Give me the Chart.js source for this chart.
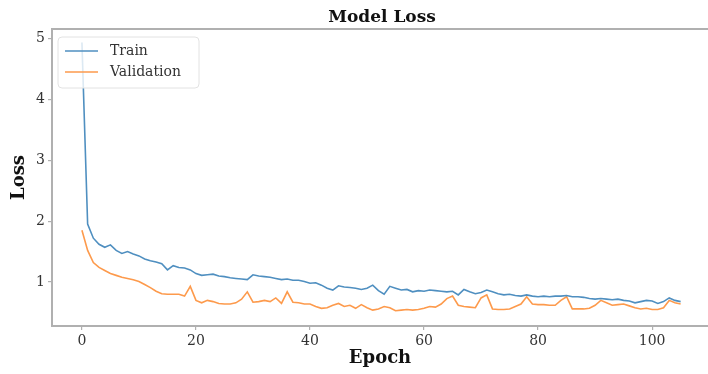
<!DOCTYPE html>
<html>
<head>
<meta charset="utf-8">
<title>Model Loss</title>
<script src="https://cdn.jsdelivr.net/npm/chart.js@4"></script>
<style>
  html, body { margin: 0; padding: 0; background: #fff; overflow: hidden; }
  canvas { display: block; }
</style>
</head>
<body>
<canvas id="c" width="708" height="374"></canvas>
<script>
// Training history, one value per epoch (0..105)
const trainLoss = [
  4.93, 1.95, 1.72, 1.62, 1.57, 1.61, 1.52, 1.47, 1.50, 1.46,
  1.43, 1.38, 1.35, 1.33, 1.30, 1.20, 1.27, 1.24, 1.23, 1.20,
  1.14, 1.11, 1.12, 1.13, 1.10, 1.09, 1.07, 1.06, 1.05, 1.04,
  1.12, 1.10, 1.09, 1.08, 1.06, 1.04, 1.05, 1.03, 1.03, 1.01,
  0.98, 0.99, 0.95, 0.90, 0.87, 0.94, 0.92, 0.91, 0.90, 0.88,
  0.90, 0.95, 0.86, 0.80, 0.93, 0.90, 0.87, 0.88, 0.84, 0.86,
  0.85, 0.87, 0.86, 0.85, 0.84, 0.85, 0.79, 0.88, 0.84, 0.81,
  0.83, 0.87, 0.84, 0.81, 0.79, 0.80, 0.78, 0.77, 0.79, 0.77,
  0.76, 0.77, 0.76, 0.77, 0.77, 0.78, 0.76, 0.76, 0.75, 0.73,
  0.72, 0.73, 0.72, 0.71, 0.72, 0.70, 0.69, 0.66, 0.68, 0.70,
  0.69, 0.65, 0.68, 0.74, 0.70, 0.68
];
const validationLoss = [
  1.85, 1.52, 1.32, 1.24, 1.19, 1.14, 1.11, 1.08, 1.06, 1.04,
  1.01, 0.96, 0.91, 0.85, 0.81, 0.80, 0.80, 0.80, 0.77, 0.93,
  0.70, 0.66, 0.70, 0.68, 0.65, 0.64, 0.64, 0.66, 0.72, 0.84,
  0.67, 0.68, 0.70, 0.68, 0.74, 0.65, 0.84, 0.67, 0.66, 0.64,
  0.64, 0.60, 0.57, 0.58, 0.62, 0.65, 0.60, 0.62, 0.57, 0.63,
  0.58, 0.54, 0.56, 0.60, 0.58, 0.53, 0.54, 0.55, 0.54, 0.55,
  0.57, 0.60, 0.59, 0.64, 0.73, 0.77, 0.62, 0.60, 0.59, 0.58,
  0.74, 0.79, 0.56, 0.55, 0.55, 0.56, 0.60, 0.64, 0.76, 0.64,
  0.63, 0.63, 0.62, 0.62, 0.70, 0.76, 0.56, 0.56, 0.56, 0.57,
  0.62, 0.70, 0.66, 0.62, 0.63, 0.64, 0.61, 0.58, 0.56, 0.57,
  0.55, 0.55, 0.58, 0.70, 0.66, 0.64
];
const epochs = trainLoss.map((_, i) => i);
const xTickValues = [0, 20, 40, 60, 80, 100];
const yTickValues = [1, 2, 3, 4, 5];

const SERIF = "'DejaVu Serif', 'Liberation Serif', serif";
const SPINE = '#b0b0b0';

// Left, top and bottom spines of the axes box
const framePlugin = {
  id: 'frame',
  afterDatasetsDraw(chart) {
    const { ctx, chartArea: a } = chart;
    ctx.save();
    ctx.strokeStyle = SPINE;
    ctx.lineWidth = 2;
    ctx.beginPath();
    ctx.moveTo(a.right + 2, a.top);
    ctx.lineTo(a.left, a.top);
    ctx.lineTo(a.left, a.bottom);
    ctx.lineTo(a.right + 2, a.bottom);
    ctx.stroke();
    ctx.restore();
  }
};

// Title centred over the plotting area
const axesTitlePlugin = {
  id: 'axesTitle',
  afterDraw(chart) {
    const { ctx, chartArea: a } = chart;
    ctx.save();
    ctx.font = "bold 17px " + SERIF;
    ctx.fillStyle = '#111';
    ctx.textAlign = 'center';
    ctx.textBaseline = 'middle';
    ctx.fillText('Model Loss', (a.left + a.right) / 2 + 2, 18);
    ctx.restore();
  }
};

// Legend box in the upper-left corner of the plotting area
const innerLegendPlugin = {
  id: 'innerLegend',
  afterDraw(chart) {
    const { ctx, chartArea: a } = chart;
    const x = a.left + 6, y = a.top + 8, w = 141, h = 51, r = 4;
    ctx.save();
    ctx.fillStyle = 'rgba(255,255,255,0.8)';
    ctx.strokeStyle = '#e2e2e2';
    ctx.lineWidth = 1;
    ctx.beginPath();
    ctx.roundRect(x, y, w, h, r);
    ctx.fill();
    ctx.stroke();
    ctx.font = "14px " + SERIF;
    ctx.textBaseline = 'middle';
    ctx.textAlign = 'left';
    chart.data.datasets.forEach((ds, i) => {
      const cy = y + 14 + i * 21;
      ctx.strokeStyle = ds.borderColor;
      ctx.lineWidth = 1.5;
      ctx.beginPath();
      ctx.moveTo(x + 7, cy);
      ctx.lineTo(x + 40, cy);
      ctx.stroke();
      ctx.fillStyle = '#333';
      ctx.fillText(ds.label, x + 52, cy);
    });
    ctx.restore();
  }
};

new Chart(document.getElementById('c'), {
  type: 'line',
  data: {
    labels: epochs,
    datasets: [
      {
        label: 'Train',
        data: trainLoss.map((v, i) => ({ x: epochs[i], y: v })),
        borderColor: '#4f8fc0',
        borderWidth: 1.6,
        pointRadius: 0,
        tension: 0,
        fill: false
      },
      {
        label: 'Validation',
        data: validationLoss.map((v, i) => ({ x: epochs[i], y: v })),
        borderColor: '#fd9a4c',
        borderWidth: 1.6,
        pointRadius: 0,
        tension: 0,
        fill: false
      }
    ]
  },
  options: {
    responsive: false,
    animation: false,
    layout: { padding: { top: 29, right: 0, bottom: 0, left: 0 } },
    plugins: {
      legend: { display: false },
      title: { display: false },
      tooltip: { enabled: false }
    },
    scales: {
      x: {
        type: 'linear',
        min: -5.25,
        max: 109.8,
        afterBuildTicks(scale) { scale.ticks = xTickValues.map(v => ({ value: v })); },
        afterFit(scale) { scale.height = 48; },
        border: { display: false },
        grid: { drawOnChartArea: false, drawTicks: true, tickLength: 4, color: SPINE, lineWidth: 1.2 },
        ticks: { font: { family: SERIF, size: 14 }, color: '#333', padding: 3, maxRotation: 0 },
        title: {
          display: true, text: 'Epoch', color: '#111',
          font: { family: SERIF, size: 18, weight: 'bold' },
          padding: { top: 0, bottom: 5 }
        }
      },
      y: {
        type: 'linear',
        min: 0.28,
        max: 5.15,
        afterBuildTicks(scale) { scale.ticks = yTickValues.map(v => ({ value: v })); },
        afterFit(scale) { scale.width = 52; },
        border: { display: false },
        grid: { drawOnChartArea: false, drawTicks: true, tickLength: 4, color: SPINE, lineWidth: 1.2 },
        ticks: { font: { family: SERIF, size: 14 }, color: '#333', padding: 3 },
        title: {
          display: true, text: 'Loss', color: '#111',
          font: { family: SERIF, size: 18, weight: 'bold' },
          padding: { top: 9, bottom: 0 }
        }
      }
    }
  },
  plugins: [framePlugin, axesTitlePlugin, innerLegendPlugin]
});
</script>
</body>
</html>
